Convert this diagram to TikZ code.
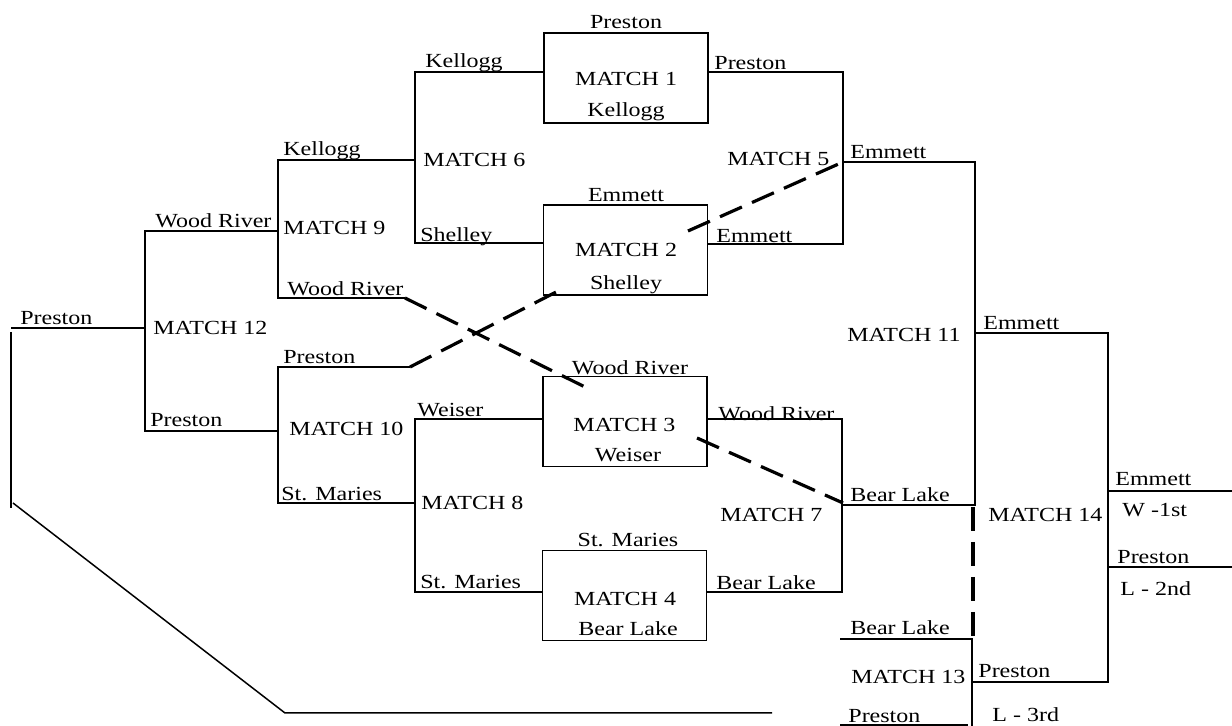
\documentclass[tikz,border=0pt]{standalone}
\usepackage{fontspec}
\setmainfont{Liberation Serif}[FakeStretch=1.2]
\begin{document}
\begin{tikzpicture}[x=0.5pt,y=-0.5pt,font=\fontsize{10}{12}\selectfont,
  lbl/.style={anchor=base west,inner sep=0pt},
  clbl/.style={anchor=base,inner sep=0pt},
  ln/.style={line width=0.75pt},
  dsh/.style={line width=1.6pt,dash pattern=on 12pt off 5.5pt},
  mbox/.style={draw,line width=0.9pt,inner sep=0pt,minimum width=82pt,minimum height=45pt}]
\useasboundingbox (0,0) rectangle (1232,726);
% match boxes
\node[mbox] (m1) at (626,78) {};
\node[mbox] (m2) at (625.5,250) {};
\node[mbox] (m3) at (625,421.5) {};
\node[mbox] (m4) at (624.5,595.5) {};
% coordinates
\coordinate (p0) at (11,328);
\coordinate (v0a) at (11,332);
\coordinate (v0b) at (11,508);
\coordinate (d0) at (13,503);
\coordinate (d1) at (285,713);
\coordinate (d2) at (772,713);
\coordinate (m12t) at (145,231);
\coordinate (m12b) at (145,431);
\coordinate (p12) at (145,328);
\coordinate (m9m) at (278,231);
\coordinate (m10m) at (278,431);
\coordinate (m9t) at (278,160);
\coordinate (m9b) at (278,298);
\coordinate (m9be) at (405,298);
\coordinate (m6m) at (415,160);
\coordinate (m6t) at (415,72);
\coordinate (m6b) at (415,243);
\coordinate (m5t) at (843,72);
\coordinate (m5b) at (843,244);
\coordinate (m5m) at (843,162);
\coordinate (m11t) at (975,162);
\coordinate (m11b) at (975,505);
\coordinate (m11m) at (975,333);
\coordinate (m7m) at (842,505);
\coordinate (m10t) at (278,367);
\coordinate (m10b) at (278,503);
\coordinate (m10te) at (410,367);
\coordinate (m8m) at (415,503);
\coordinate (m8t) at (415,419);
\coordinate (m8b) at (415,592);
\coordinate (m7t) at (842,419);
\coordinate (m7b) at (842,592);
\coordinate (m14t) at (1108,333);
\coordinate (m14b) at (1108,682);
\coordinate (m13m) at (972,682);
\coordinate (m13t) at (972,639);
\coordinate (m13b) at (972,726);
\coordinate (bl13) at (840,639);
\coordinate (pr13) at (840,725);
\coordinate (pr13e) at (968,725);
\coordinate (w1s) at (1108,491);
\coordinate (w1) at (1232,491);
\coordinate (l2s) at (1108,567);
\coordinate (l2) at (1232,567);
\coordinate (dv0) at (973,507);
\coordinate (dv1) at (973,638);
\coordinate (dA0) at (688,231);
\coordinate (dB1) at (562,289);
\coordinate (dC1) at (585,387);
\coordinate (dD0) at (697,438);
\coordinate (dD1) at (843,503);
% solid bracket lines
\draw[ln] (p0) -- (p12);
\draw[ln] (v0a) -- (v0b);
\draw[ln] (d0) -- (d1) -- (d2);
\draw[ln] (m9m) -- (m12t) -- (m12b) -- (m10m);
\draw[ln] (m6m) -- (m9t) -- (m9b) -- (m9be);
\draw[ln] (m6t -| m1.west) -- (m6t) -- (m6b) -- (m6b -| m2.west);
\draw[ln] (m5t -| m1.east) -- (m5t) -- (m5b) -- (m5b -| m2.east);
\draw[ln] (m5m) -- (m11t) -- (m11b) -- (m7m);
\draw[ln] (m10te) -- (m10t) -- (m10b) -- (m8m);
\draw[ln] (m8t -| m3.west) -- (m8t) -- (m8b) -- (m8b -| m4.west);
\draw[ln] (m7t -| m3.east) -- (m7t) -- (m7b) -- (m7b -| m4.east);
\draw[ln] (m11m) -- (m14t) -- (m14b) -- (m13m);
\draw[ln] (bl13) -- (m13t) -- (m13b);
\draw[ln] (pr13) -- (pr13e);
\draw[ln] (w1s) -- (w1);
\draw[ln] (l2s) -- (l2);
% dashed lines
\draw[dsh] (dv0) -- (dv1);
\draw[dsh] (dA0) -- (m5m);
\draw[dsh] (m10te) -- (dB1);
\draw[dsh] (m9be) -- (dC1);
\draw[dsh] (dD0) -- (dD1);
% labels
\node[lbl] (t1) at (20,325) {Preston};
\node[lbl] (t2) at (153,335) {MATCH 12};
\node[lbl] (t3) at (155,228) {Wood River};
\node[lbl] (t4) at (150,427) {Preston};
\node[lbl] (t5) at (283,156) {Kellogg};
\node[lbl] (t6) at (283,235) {MATCH 9};
\node[lbl] (t7) at (287,296) {Wood River};
\node[lbl] (t8) at (425,68) {Kellogg};
\node[lbl] (t9) at (423,167) {MATCH 6};
\node[lbl] (t10) at (420,242) {Shelley};
\node[clbl] (t11) at (626,29) {Preston};
\node[clbl] (t12) at (626,86) {MATCH 1};
\node[clbl] (t13) at (626,117) {Kellogg};
\node[lbl] (t14) at (714,70) {Preston};
\node[lbl] (t15) at (727,166) {MATCH 5};
\node[lbl] (t16) at (850,159) {Emmett};
\node[clbl] (t17) at (626,202) {Emmett};
\node[clbl] (t18) at (626,257) {MATCH 2};
\node[clbl] (t19) at (626,290) {Shelley};
\node[lbl] (t20) at (716,243) {Emmett};
\node[lbl] (t21) at (283,364) {Preston};
\node[lbl] (t22) at (289,436) {MATCH 10};
\node[lbl] (t23) at (281,501) {St. Maries};
\node[lbl] (t24) at (417,417) {Weiser};
\node[lbl] (t25) at (421,510) {MATCH 8};
\node[lbl] (t26) at (420,589) {St. Maries};
\node[clbl] (t27) at (630,375) {Wood River};
\node[clbl] (t28) at (624.5,432) {MATCH 3};
\node[clbl] (t29) at (628,462) {Weiser};
\node[lbl] (t30) at (718,421) {Wood River};
\node[lbl] (t31) at (720,522) {MATCH 7};
\node[lbl] (t32) at (850,502) {Bear Lake};
\node[clbl] (t33) at (628,547) {St. Maries};
\node[clbl] (t34) at (625,606) {MATCH 4};
\node[clbl] (t35) at (628,636) {Bear Lake};
\node[lbl] (t36) at (716,590) {Bear Lake};
\node[lbl] (t37) at (847,342) {MATCH 11};
\node[lbl] (t38) at (983,330) {Emmett};
\node[lbl] (t39) at (850,635) {Bear Lake};
\node[lbl] (t40) at (851,683) {MATCH 13};
\node[lbl] (t41) at (848,723) {Preston};
\node[lbl] (t42) at (978,678) {Preston};
\node[lbl] (t43) at (992,722) {L - 3rd};
\node[lbl] (t44) at (988,522) {MATCH 14};
\node[lbl] (t45) at (1115,486) {Emmett};
\node[lbl] (t46) at (1122,517) {W -1st};
\node[lbl] (t47) at (1117,564) {Preston};
\node[lbl] (t48) at (1120,596) {L - 2nd};
\end{tikzpicture}
\end{document}
